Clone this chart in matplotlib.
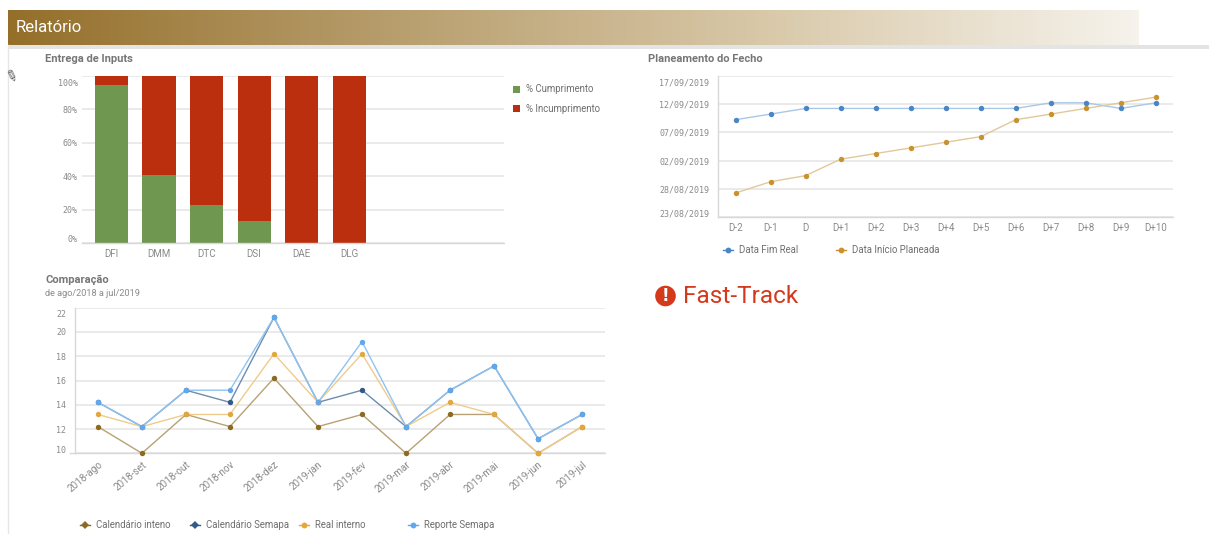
import numpy as np
import matplotlib
matplotlib.use('Agg')
import matplotlib.pyplot as plt
import matplotlib.dates as mdates
from matplotlib.patches import Circle, Rectangle
from matplotlib.colors import LinearSegmentedColormap
from matplotlib.transforms import ScaledTranslation

#%% Data

inputs_cat = ['DFI', 'DMM', 'DTC', 'DSI', 'DAE', 'DLG']
cumprimento = [94.5, 41, 23, 13, 0, 0]
incumprimento = [5.5, 59, 77, 87, 100, 100]

fecho_cat = ['D-2', 'D-1', 'D', 'D+1', 'D+2', 'D+3', 'D+4', 'D+5', 'D+6', 'D+7', 'D+8', 'D+9', 'D+10']
data_fim_real = ['2019-09-09T06', '2019-09-10T06', '2019-09-11T06', '2019-09-11T06', '2019-09-11T06',
                 '2019-09-11T06', '2019-09-11T06', '2019-09-11T06', '2019-09-11T06', '2019-09-12T06',
                 '2019-09-12T06', '2019-09-11T06', '2019-09-12T06']
data_inicio_plan = ['2019-08-27T06', '2019-08-29T06', '2019-08-30T08', '2019-09-02T06', '2019-09-03T06',
                    '2019-09-04T06', '2019-09-05T06', '2019-09-06T06', '2019-09-09T06', '2019-09-10T06',
                    '2019-09-11T06', '2019-09-12T06', '2019-09-13T06']
fecho_ticks = ['2019-08-23', '2019-08-28', '2019-09-02', '2019-09-07', '2019-09-12', '2019-09-17']

meses = ['2018-ago', '2018-set', '2018-out', '2018-nov', '2018-dez', '2019-jan',
         '2019-fev', '2019-mar', '2019-abr', '2019-mai', '2019-jun', '2019-jul']
calendario_interno = [12.2, 10, 13.2, 12.2, 16.2, 12.2, 13.2, 10, 13.2, 13.2, 10, 12.2]
calendario_semapa = [14.2, 12.2, 15.2, 14.2, 21.2, 14.2, 15.2, 12.2, 15.2, 17.2, 11.2, 13.2]
real_interno = [13.2, 12.2, 13.2, 13.2, 18.2, 14.2, 18.2, 12.2, 14.2, 13.2, 10, 12.2]
reporte_semapa = [14.2, 12.2, 15.2, 15.2, 21.2, 14.2, 19.2, 12.2, 15.2, 17.2, 11.2, 13.2]

#%% Setup

W, H = 1209, 534
GRID = '#e8e8e8'
AXIS = '#d8d8d8'
TXT = '#8a8a8a'
TITLE = '#767676'
GREEN = '#6f974f'
RED = '#bb2f0e'

plt.rcParams['font.family'] = ['Roboto', 'DejaVu Sans']

fig = plt.figure(figsize=(W/100, H/100), dpi=100)

def px_axes(x0, x1, y0, y1):
    # pixel box measured from the top left of the picture
    ax = fig.add_axes([x0/W, 1-y1/H, (x1-x0)/W, (y1-y0)/H])
    ax.set_facecolor('none')
    for s in ['top', 'right']:
        ax.spines[s].set_visible(False)
    ax.spines['left'].set_color(AXIS)
    ax.spines['bottom'].set_color(AXIS)
    ax.spines['left'].set_linewidth(1)
    ax.spines['bottom'].set_linewidth(1)
    ax.grid(axis='y', color=GRID, lw=1.3)
    ax.set_axisbelow(True)
    return ax

def style_ticks(ax, ypad, xpad=4.5):
    ax.tick_params(axis='x', length=0, labelcolor=TXT, labelsize=7, pad=xpad)
    ax.tick_params(axis='y', length=0, labelcolor=TXT, pad=ypad)
    labs = ax.get_yticklabels()
    for l in labs:
        l.set_family(['DejaVu Sans Mono'])
        l.set_fontsize(6)
    # first and last label sit inside the plot, as in the dashboard
    labs[0].set_va('bottom')
    labs[-1].set_va('top')
    labs[0].set_transform(labs[0].get_transform() + ScaledTranslation(0, -1/72, fig.dpi_scale_trans))
    labs[-1].set_transform(labs[-1].get_transform() + ScaledTranslation(0, -2/72, fig.dpi_scale_trans))

def line_series(ax, x, y, color, line_color):
    ax.plot(x, y, color=line_color, lw=1.0, zorder=3, clip_on=False)
    ax.plot(x, y, ls='none', marker='o', ms=3.9, color=color, mew=0, zorder=4, clip_on=False)

#%% Overlay for header and the loose texts

ov = fig.add_axes([0, 0, 1, 1], zorder=10)
ov.axis('off')
ov.patch.set_alpha(0)

header = LinearSegmentedColormap.from_list('header', ['#946f2a', '#b79d6c', '#d8c8a8', '#f6f3ec'])
ov.imshow(np.linspace(0, 1, 256).reshape(1, -1), cmap=header, extent=[8, 1139, 45, 10], aspect='auto', zorder=1)
ov.set_xlim(0, W)
ov.set_ylim(H, 0)
ov.add_patch(Rectangle((8, 45), W-8, 3.5, color='#e4e4e4', lw=0, zorder=1))
ov.plot([7.5, 7.5], [45, H], color='#e6e6e6', lw=1, zorder=1)
ov.text(16, 27.5, 'Relatório', color='white', fontsize=12, va='center', zorder=2)
ov.text(11, 77, '\u270e', color='#555555', fontsize=11, family='DejaVu Sans', rotation=-20, ha='center', va='center')

ov.text(45, 59.5, 'Entrega de Inputs', color=TITLE, fontsize=8, weight='bold', va='center')
ov.text(648, 59.5, 'Planeamento do Fecho', color=TITLE, fontsize=8, weight='bold', va='center')
ov.text(45, 280, 'Comparação', color=TITLE, fontsize=8, weight='bold', va='center')
ov.text(45, 293, 'de ago/2018 a jul/2019', color=TXT, fontsize=6.6, va='center')

ov.add_patch(Circle((665.5, 296), 10.3, color='#d5391c', lw=0))
ov.text(665.5, 296, '!', color='white', fontsize=12, weight='bold', ha='center', va='center', family='DejaVu Sans')
ov.text(683, 296.5, 'Fast-Track', color='#d5391c', fontsize=17.6, va='center', family='Roboto')

# small axis tick where the Comparacao baseline meets the labels
ov.plot([70, 75], [453.3, 453.3], color=AXIS, lw=1)

def legend_sq(x, y, label, color):
    ov.add_patch(Rectangle((x-3.5, y-3.5), 7, 7, color=color, lw=0))
    ov.text(x+10, y, label, color='#6f6f6f', fontsize=6.9, va='center')

def legend_ln(x, y, label, color, marker='o'):
    ov.plot([x-5, x+5], [y, y], color=color, lw=1)
    ov.plot([x], [y], marker=marker, ms=4.2, color=color, mew=0)
    ov.text(x+11, y, label, color='#6f6f6f', fontsize=6.9, va='center')

#%% Entrega de Inputs

ax1 = px_axes(82, 504, 76, 243)
pos = np.arange(len(inputs_cat))
ax1.bar(pos, cumprimento, width=0.695, color=GREEN, zorder=2)
ax1.bar(pos, incumprimento, width=0.695, bottom=cumprimento, color=RED, zorder=2)
ax1.set_xlim(-0.62, 8.26)
ax1.set_ylim(0, 100)
ax1.set_xticks(pos, inputs_cat)
ax1.set_yticks([0, 20, 40, 60, 80, 100], ['0%', '20%', '40%', '60%', '80%', '100%'])
ax1.spines['left'].set_visible(False)
style_ticks(ax1, 3)
legend_sq(516, 89, '% Cumprimento', GREEN)
legend_sq(516, 108.5, '% Incumprimento', RED)

#%% Planeamento do Fecho

ax2 = px_axes(717.7, 1173, 76, 217)
pos = np.arange(len(fecho_cat))
line_series(ax2, pos, np.array(data_fim_real, dtype='datetime64[h]'), '#4a86c5', '#a9c7e6')
line_series(ax2, pos, np.array(data_inicio_plan, dtype='datetime64[h]'), '#c8922f', '#e2c899')
tick_dates = np.array(fecho_ticks, dtype='datetime64[D]')
ax2.set_xlim(-0.51, 12.49)
ax2.set_ylim(tick_dates[0], tick_dates[-1])
ax2.set_xticks(pos, fecho_cat)
ax2.set_yticks(mdates.date2num(tick_dates))
ax2.yaxis.set_major_formatter(mdates.DateFormatter('%d/%m/%Y'))
style_ticks(ax2, 6)
legend_ln(728, 250, 'Data Fim Real', '#4a86c5')
legend_ln(841, 250, 'Data Início Planeada', '#c8922f')

#%% Comparacao

ax3 = px_axes(75, 605, 307.7, 453.3)
pos = np.arange(len(meses))
line_series(ax3, pos, calendario_interno, '#8c6a20', '#b7a175')
line_series(ax3, pos, calendario_semapa, '#2f5a8a', '#6d8cae')
line_series(ax3, pos, real_interno, '#e3a73a', '#efcb8c')
line_series(ax3, pos, reporte_semapa, '#5ea8ef', '#8fc3f3')
ax3.set_xlim(-0.52, 11.52)
ax3.set_ylim(10, 22)
ax3.set_xticks(pos, meses)
ax3.set_yticks(np.arange(10, 23, 2))
style_ticks(ax3, 6.5)
plt.setp(ax3.get_xticklabels(), rotation=40, ha='right', rotation_mode='anchor', fontsize=7.2)
legend_ln(85, 524.5, 'Calendário inteno', '#8c6a20', marker='D')
legend_ln(194.5, 524.5, 'Calendário Semapa', '#2f5a8a', marker='D')
legend_ln(304, 524.5, 'Real interno', '#e3a73a')
legend_ln(413, 524.5, 'Reporte Semapa', '#5ea8ef')

fig.savefig('out.png', dpi=100)
